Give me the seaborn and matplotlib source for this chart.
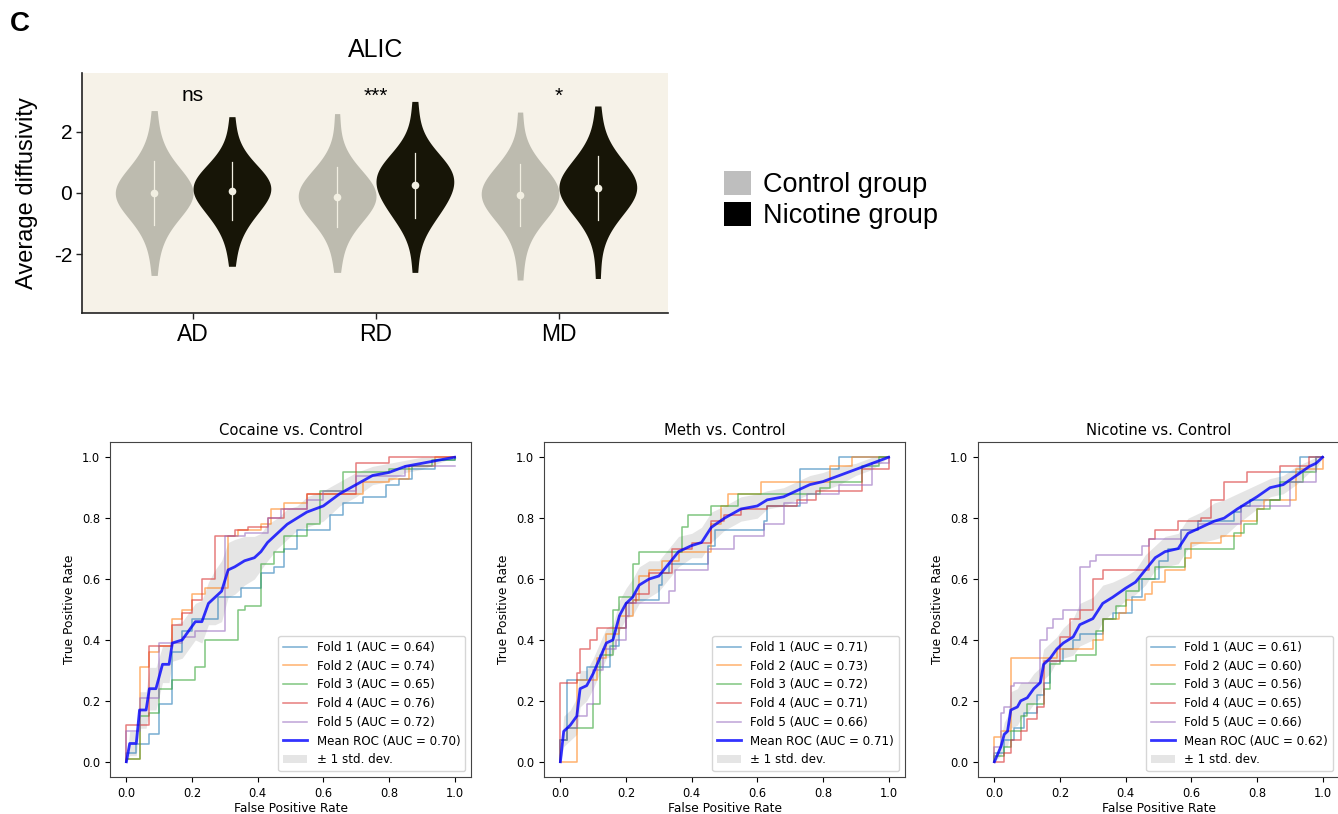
import numpy as np
import pandas as pd
import matplotlib
matplotlib.use("Agg")
import matplotlib.pyplot as plt
from matplotlib.patches import Patch
import seaborn as sns

plt.rcParams["axes.unicode_minus"] = False

# ---------------- Violin data (ALIC) ----------------
measures = ["AD", "RD", "MD"]
groups = ["Control group", "Nicotine group"]
annotations = ["ns", "***", "*"]

ad_control = [-2.7, -1.85, -1.45, -1.15, -0.95, -0.8, -0.68, -0.58, -0.49, -0.41, -0.34, -0.28, -0.22, -0.17, -0.11, -0.05,
              0.0, 0.05, 0.11, 0.17, 0.22, 0.28, 0.34, 0.41, 0.49, 0.58, 0.68, 0.8, 0.95, 1.15, 1.45, 1.85, 2.7]
ad_nicotine = [-2.4, -1.7, -1.3, -1.05, -0.88, -0.75, -0.63, -0.53, -0.44, -0.35, -0.27, -0.19, -0.12, -0.05, 0.02, 0.08,
               0.13, 0.18, 0.22, 0.26, 0.3, 0.35, 0.4, 0.46, 0.53, 0.61, 0.7, 0.8, 0.92, 1.06, 1.28, 1.7, 2.5]
rd_control = [-2.6, -1.9, -1.5, -1.2, -1.02, -0.9, -0.79, -0.7, -0.62, -0.54, -0.47, -0.41, -0.35, -0.29, -0.23, -0.17,
              -0.12, -0.06, 0.0, 0.06, 0.12, 0.18, 0.24, 0.3, 0.37, 0.45, 0.53, 0.63, 0.75, 0.9, 1.12, 1.6, 2.6]
rd_nicotine = [-2.6, -1.6, -1.15, -0.9, -0.75, -0.62, -0.52, -0.43, -0.36, -0.29, -0.25, -0.15, 0.03, 0.16, 0.24, 0.3,
               0.35, 0.4, 0.45, 0.5, 0.55, 0.61, 0.67, 0.74, 0.82, 0.9, 0.99, 1.09, 1.15, 1.28, 1.55, 2.1, 3.0]
md_control = [-2.85, -1.95, -1.5, -1.15, -0.97, -0.85, -0.74, -0.65, -0.56, -0.48, -0.41, -0.34, -0.28, -0.22, -0.16, -0.1,
              -0.05, 0.01, 0.07, 0.13, 0.19, 0.25, 0.32, 0.39, 0.47, 0.55, 0.63, 0.73, 0.84, 0.98, 1.2, 1.6, 2.65]
md_nicotine = [-2.8, -1.7, -1.2, -0.92, -0.77, -0.65, -0.54, -0.44, -0.35, -0.27, -0.19, -0.12, -0.05, 0.02, 0.08, 0.14,
               0.19, 0.24, 0.29, 0.35, 0.41, 0.47, 0.54, 0.62, 0.7, 0.79, 0.89, 1.0, 1.13, 1.3, 1.55, 2.0, 2.85]

# ---------------- ROC data ----------------
roc_titles = ["Cocaine vs. Control", "Meth vs. Control", "Nicotine vs. Control"]

coc_fold_fpr = [
    [0, 0, 0.03, 0.07, 0.10, 0.14, 0.17, 0.20, 0.28, 0.35, 0.41, 0.45, 0.48, 0.52, 0.62, 0.66, 0.72, 0.79, 0.83, 0.87, 0.94, 1.0],
    [0, 0, 0.04, 0.07, 0.10, 0.14, 0.17, 0.20, 0.24, 0.31, 0.34, 0.41, 0.44, 0.48, 0.55, 0.72, 0.80, 0.86, 0.94, 1.0],
    [0, 0, 0.04, 0.07, 0.10, 0.14, 0.21, 0.24, 0.34, 0.36, 0.41, 0.45, 0.48, 0.55, 0.59, 0.66, 0.80, 0.87, 0.93, 1.0],
    [0, 0, 0.04, 0.07, 0.14, 0.17, 0.20, 0.23, 0.27, 0.33, 0.37, 0.43, 0.48, 0.55, 0.70, 0.80, 1.0],
    [0, 0, 0.04, 0.07, 0.10, 0.17, 0.21, 0.30, 0.36, 0.43, 0.47, 0.55, 0.60, 0.70, 0.85, 1.0],
]
coc_fold_tpr = [
    [0, 0.03, 0.06, 0.09, 0.19, 0.36, 0.43, 0.47, 0.54, 0.57, 0.62, 0.64, 0.70, 0.76, 0.81, 0.85, 0.87, 0.91, 0.93, 0.96, 0.99, 1.0],
    [0, 0.01, 0.31, 0.36, 0.38, 0.47, 0.50, 0.55, 0.57, 0.74, 0.76, 0.78, 0.83, 0.85, 0.88, 0.92, 0.93, 0.97, 1.0, 1.0],
    [0, 0.01, 0.15, 0.16, 0.24, 0.27, 0.31, 0.40, 0.50, 0.51, 0.65, 0.69, 0.74, 0.78, 0.89, 0.95, 0.96, 0.97, 0.99, 1.0],
    [0, 0.12, 0.12, 0.38, 0.45, 0.49, 0.53, 0.60, 0.74, 0.76, 0.77, 0.80, 0.83, 0.88, 0.98, 1.0, 1.0],
    [0, 0.10, 0.21, 0.21, 0.39, 0.41, 0.43, 0.74, 0.75, 0.80, 0.83, 0.86, 0.89, 0.94, 0.97, 0.97],
]
coc_fold_auc = [0.64, 0.74, 0.65, 0.76, 0.72]
coc_mean_fpr = [0, 0.01, 0.03, 0.04, 0.06, 0.07, 0.09, 0.11, 0.13, 0.14, 0.17, 0.19, 0.21, 0.23, 0.25, 0.27, 0.29, 0.31,
                0.33, 0.36, 0.39, 0.41, 0.43, 0.46, 0.49, 0.52, 0.55, 0.6, 0.65, 0.7, 0.75, 0.8, 0.85, 0.9, 0.95, 1.0]
coc_mean_tpr = [0, 0.06, 0.06, 0.17, 0.17, 0.24, 0.24, 0.32, 0.32, 0.39, 0.40, 0.43, 0.46, 0.46, 0.52, 0.54, 0.56, 0.63,
                0.64, 0.66, 0.67, 0.69, 0.72, 0.75, 0.78, 0.80, 0.82, 0.84, 0.88, 0.91, 0.94, 0.95, 0.97, 0.98, 0.99, 1.0]
coc_std_tpr = [0, 0.04, 0.04, 0.06, 0.06, 0.07, 0.07, 0.06, 0.06, 0.06, 0.06, 0.06, 0.06, 0.07, 0.07, 0.09, 0.10, 0.09,
               0.09, 0.08, 0.07, 0.06, 0.06, 0.05, 0.05, 0.04, 0.05, 0.05, 0.04, 0.04, 0.03, 0.03, 0.02, 0.02, 0.01, 0.0]
coc_mean_auc = 0.70

meth_fold_fpr = [
    [0, 0, 0.02, 0.08, 0.15, 0.18, 0.20, 0.22, 0.30, 0.31, 0.33, 0.45, 0.47, 0.62, 0.63, 0.73, 0.85, 1.0],
    [0, 0.05, 0.11, 0.14, 0.18, 0.22, 0.24, 0.27, 0.31, 0.36, 0.46, 0.49, 0.51, 0.61, 0.82, 0.89, 1.0],
    [0, 0, 0.02, 0.10, 0.12, 0.16, 0.18, 0.22, 0.24, 0.37, 0.39, 0.46, 0.54, 0.79, 0.82, 0.92, 0.97, 1.0],
    [0, 0, 0.05, 0.06, 0.09, 0.11, 0.20, 0.23, 0.27, 0.34, 0.40, 0.46, 0.50, 0.55, 0.63, 0.72, 0.78, 0.92, 1.0],
    [0, 0, 0.02, 0.05, 0.08, 0.10, 0.13, 0.17, 0.20, 0.21, 0.33, 0.35, 0.45, 0.53, 0.62, 0.68, 0.75, 0.85, 0.95, 1.0],
]
meth_fold_tpr = [
    [0, 0.07, 0.27, 0.31, 0.38, 0.44, 0.52, 0.53, 0.58, 0.62, 0.65, 0.71, 0.76, 0.79, 0.84, 0.96, 1.0, 1.0],
    [0, 0.27, 0.34, 0.42, 0.48, 0.53, 0.61, 0.63, 0.66, 0.69, 0.78, 0.84, 0.88, 0.92, 0.97, 1.0, 1.0],
    [0, 0.07, 0.11, 0.19, 0.35, 0.50, 0.54, 0.65, 0.69, 0.77, 0.81, 0.84, 0.88, 0.90, 0.92, 0.97, 1.0, 1.0],
    [0, 0.26, 0.29, 0.37, 0.40, 0.44, 0.52, 0.55, 0.62, 0.70, 0.72, 0.79, 0.81, 0.83, 0.84, 0.86, 0.89, 0.96, 1.0],
    [0, 0.07, 0.11, 0.15, 0.19, 0.30, 0.37, 0.40, 0.48, 0.52, 0.56, 0.63, 0.70, 0.74, 0.78, 0.85, 0.88, 0.91, 0.98, 1.0],
]
meth_fold_auc = [0.71, 0.73, 0.72, 0.71, 0.66]
meth_mean_fpr = [0, 0.01, 0.03, 0.05, 0.06, 0.08, 0.10, 0.12, 0.14, 0.16, 0.18, 0.20, 0.22, 0.24, 0.27, 0.30, 0.33,
                 0.36, 0.40, 0.43, 0.46, 0.50, 0.55, 0.60, 0.63, 0.68, 0.72, 0.76, 0.80, 0.85, 0.90, 0.95, 1.0]
meth_mean_tpr = [0, 0.10, 0.12, 0.15, 0.24, 0.25, 0.29, 0.34, 0.39, 0.40, 0.48, 0.52, 0.54, 0.58, 0.60, 0.61, 0.65,
                 0.69, 0.71, 0.72, 0.77, 0.80, 0.83, 0.84, 0.86, 0.87, 0.89, 0.91, 0.92, 0.94, 0.96, 0.98, 1.0]
meth_std_tpr = [0, 0.05, 0.05, 0.06, 0.06, 0.05, 0.05, 0.05, 0.05, 0.05, 0.05, 0.05, 0.06, 0.06, 0.06, 0.05, 0.05,
                0.05, 0.04, 0.05, 0.05, 0.04, 0.04, 0.04, 0.03, 0.03, 0.03, 0.03, 0.03, 0.03, 0.02, 0.02, 0.0]
meth_mean_auc = 0.71

nic_fold_fpr = [
    [0, 0, 0.03, 0.06, 0.09, 0.13, 0.15, 0.17, 0.21, 0.24, 0.26, 0.33, 0.36, 0.42, 0.45, 0.50, 0.53, 0.57, 0.62, 0.73, 0.75, 0.78, 0.87, 0.93, 1.0],
    [0, 0, 0.02, 0.05, 0.19, 0.30, 0.33, 0.38, 0.40, 0.46, 0.48, 0.52, 0.58, 0.60, 0.69, 0.75, 0.80, 0.82, 0.92, 1.0],
    [0, 0, 0.03, 0.05, 0.08, 0.10, 0.15, 0.17, 0.20, 0.25, 0.31, 0.33, 0.37, 0.40, 0.44, 0.49, 0.58, 0.73, 0.76, 0.80, 0.84, 0.87, 0.94, 0.98, 1.0],
    [0, 0.03, 0.05, 0.08, 0.10, 0.13, 0.15, 0.20, 0.23, 0.26, 0.30, 0.33, 0.47, 0.49, 0.56, 0.63, 0.66, 0.70, 0.77, 0.87, 0.96, 1.0],
    [0, 0, 0.02, 0.03, 0.05, 0.06, 0.14, 0.16, 0.18, 0.21, 0.26, 0.29, 0.31, 0.45, 0.47, 0.57, 0.62, 0.75, 0.90, 0.97, 0.98, 1.0],
]
nic_fold_tpr = [
    [0, 0.03, 0.07, 0.11, 0.16, 0.22, 0.26, 0.33, 0.37, 0.40, 0.42, 0.47, 0.49, 0.54, 0.60, 0.66, 0.70, 0.76, 0.79, 0.82, 0.84, 0.86, 0.95, 1.0, 1.0],
    [0, 0.08, 0.10, 0.34, 0.37, 0.40, 0.47, 0.49, 0.53, 0.55, 0.59, 0.63, 0.67, 0.72, 0.74, 0.79, 0.83, 0.86, 0.96, 1.0],
    [0, 0.02, 0.05, 0.10, 0.15, 0.19, 0.24, 0.32, 0.33, 0.35, 0.43, 0.47, 0.51, 0.56, 0.60, 0.64, 0.70, 0.75, 0.78, 0.83, 0.86, 0.92, 0.95, 1.0, 1.0],
    [0, 0.03, 0.07, 0.10, 0.14, 0.18, 0.33, 0.41, 0.47, 0.50, 0.60, 0.63, 0.73, 0.76, 0.79, 0.80, 0.86, 0.92, 0.95, 0.97, 1.0, 1.0],
    [0, 0.05, 0.16, 0.18, 0.25, 0.26, 0.40, 0.44, 0.47, 0.50, 0.64, 0.66, 0.68, 0.71, 0.73, 0.76, 0.78, 0.84, 0.92, 0.92, 1.0, 1.0],
]
nic_fold_auc = [0.61, 0.60, 0.56, 0.65, 0.66]
nic_mean_fpr = [0, 0.02, 0.03, 0.04, 0.05, 0.07, 0.08, 0.10, 0.12, 0.14, 0.15, 0.17, 0.19, 0.21, 0.24, 0.26, 0.30, 0.33,
                0.36, 0.40, 0.43, 0.46, 0.49, 0.52, 0.56, 0.59, 0.63, 0.67, 0.70, 0.74, 0.80, 0.84, 0.88, 0.92, 0.96, 0.98, 1.0]
nic_mean_tpr = [0, 0.05, 0.09, 0.10, 0.17, 0.18, 0.20, 0.21, 0.24, 0.26, 0.32, 0.34, 0.37, 0.39, 0.41, 0.45, 0.47, 0.52,
                0.54, 0.57, 0.59, 0.63, 0.67, 0.69, 0.70, 0.75, 0.77, 0.79, 0.80, 0.83, 0.87, 0.90, 0.91, 0.94, 0.97, 0.98, 1.0]
nic_std_tpr = [0, 0.03, 0.04, 0.05, 0.06, 0.06, 0.06, 0.05, 0.05, 0.05, 0.05, 0.05, 0.04, 0.05, 0.06, 0.07, 0.07, 0.06,
               0.05, 0.04, 0.04, 0.05, 0.04, 0.05, 0.05, 0.05, 0.05, 0.06, 0.06, 0.05, 0.04, 0.03, 0.03, 0.03, 0.02, 0.02, 0.0]
nic_mean_auc = 0.62

# ---------------- Figure ----------------
W, H = 1338, 814
fig = plt.figure(figsize=(W / 100, H / 100), dpi=100)

def px_axes(left, top, right, bottom):
    return fig.add_axes([left / W, 1 - bottom / H, (right - left) / W, (bottom - top) / H])

SANS = "Liberation Sans"

# ---- Violin panel ----
ax_v = px_axes(82, 73, 668, 313)
ax_v.set_facecolor("#F6F2E8")

values = {("AD", groups[0]): ad_control, ("AD", groups[1]): ad_nicotine,
          ("RD", groups[0]): rd_control, ("RD", groups[1]): rd_nicotine,
          ("MD", groups[0]): md_control, ("MD", groups[1]): md_nicotine}
rows = []
for (m, g), vals in values.items():
    for v in vals:
        rows.append({"measure": m, "group": g, "value": v})
df = pd.DataFrame(rows)

sns.violinplot(data=df, x="measure", y="value", hue="group", order=measures, hue_order=groups,
               palette={groups[0]: "#BDBBAF", groups[1]: "#171507"}, inner=None, cut=0,
               density_norm="width", width=0.85, linewidth=0, saturation=1, legend=False,
               bw_adjust=1.15, ax=ax_v)
sns.pointplot(data=df, x="measure", y="value", hue="group", order=measures, hue_order=groups,
              palette={groups[0]: "#F2EFE2", groups[1]: "#F2EFE2"}, estimator="mean", errorbar="sd",
              dodge=0.425, linestyle="none", markers="o", markersize=5.5, markeredgewidth=0,
              err_kws={"linewidth": 0.9}, legend=False, ax=ax_v)

ax_v.set_xlim(-0.607, 2.596)
ax_v.set_ylim(-3.93, 3.93)
ax_v.set_yticks([-2, 0, 2])
ax_v.set_yticklabels(["-2", "0", "2"], fontsize=15, family=SANS)
ax_v.set_xticks(range(len(measures)))
ax_v.set_xticklabels(measures, fontsize=16.5, family=SANS)
ax_v.set_xlabel("")
ax_v.set_ylabel("Average diffusivity", fontsize=17, family=SANS)
ax_v.yaxis.set_label_coords(-0.075, 0.5)
ax_v.tick_params(axis="both", length=4, width=1, color="#222222", pad=3)
for s in ["top", "right"]:
    ax_v.spines[s].set_visible(False)
for s in ["left", "bottom"]:
    ax_v.spines[s].set_linewidth(1.2)
    ax_v.spines[s].set_color("#222222")
for i, txt in enumerate(annotations):
    ax_v.text(i, 3.0, txt, ha="center", va="baseline", fontsize=15, family=SANS)

fig.text(376 / W, 1 - 50 / H, "ALIC", ha="center", va="center", fontsize=18, family=SANS)
fig.text(10 / W, 1 - 24 / H, "C", ha="left", va="center", fontsize=20, fontweight="bold", family=SANS)

fig.legend(handles=[Patch(facecolor="#BEBEBE", edgecolor="none"), Patch(facecolor="#000000", edgecolor="none")],
           labels=groups, loc="center left", bbox_to_anchor=(724 / W, 1 - 200 / H), frameon=False,
           prop={"family": SANS, "size": 19.5}, handlelength=1.0, handleheight=1.0,
           handletextpad=0.45, labelspacing=0.15, borderpad=0, borderaxespad=0)

# ---- ROC panels ----
roc_data = [
    (coc_fold_fpr, coc_fold_tpr, coc_fold_auc, coc_mean_fpr, coc_mean_tpr, coc_std_tpr, coc_mean_auc),
    (meth_fold_fpr, meth_fold_tpr, meth_fold_auc, meth_mean_fpr, meth_mean_tpr, meth_std_tpr, meth_mean_auc),
    (nic_fold_fpr, nic_fold_tpr, nic_fold_auc, nic_mean_fpr, nic_mean_tpr, nic_std_tpr, nic_mean_auc),
]
roc_lefts = [110, 544, 978]

for left, title, (ffpr, ftpr, fauc, mfpr, mtpr, mstd, mauc) in zip(roc_lefts, roc_titles, roc_data):
    ax = px_axes(left, 442, left + 361, 777)
    for i, (f, t, a) in enumerate(zip(ffpr, ftpr, fauc)):
        sns.lineplot(x=f, y=t, estimator=None, sort=False, drawstyle="steps-post", color=f"C{i}",
                     alpha=0.6, lw=1.1, label=f"Fold {i + 1} (AUC = {a:.2f})", ax=ax)
    sns.lineplot(x=mfpr, y=mtpr, estimator=None, sort=False, color="b", lw=2, alpha=0.8,
                 label=f"Mean ROC (AUC = {mauc:.2f})", ax=ax)
    upper = np.minimum(np.array(mtpr) + np.array(mstd), 1)
    lower = np.maximum(np.array(mtpr) - np.array(mstd), 0)
    ax.fill_between(mfpr, lower, upper, color="grey", alpha=0.2, lw=0, label="± 1 std. dev.")
    ax.set_xlim(-0.05, 1.05)
    ax.set_ylim(-0.05, 1.05)
    ax.set_title(title, fontsize=10.6, pad=5)
    ax.set_xlabel("False Positive Rate", fontsize=8.8, labelpad=2)
    ax.set_ylabel("True Positive Rate", fontsize=8.8, labelpad=4)
    ax.tick_params(labelsize=8.3)
    for sp in ax.spines.values():
        sp.set_color("#444444")
    ax.legend(loc="lower right", fontsize=8.6, labelspacing=0.48)

fig.savefig("out.png", dpi=100)
